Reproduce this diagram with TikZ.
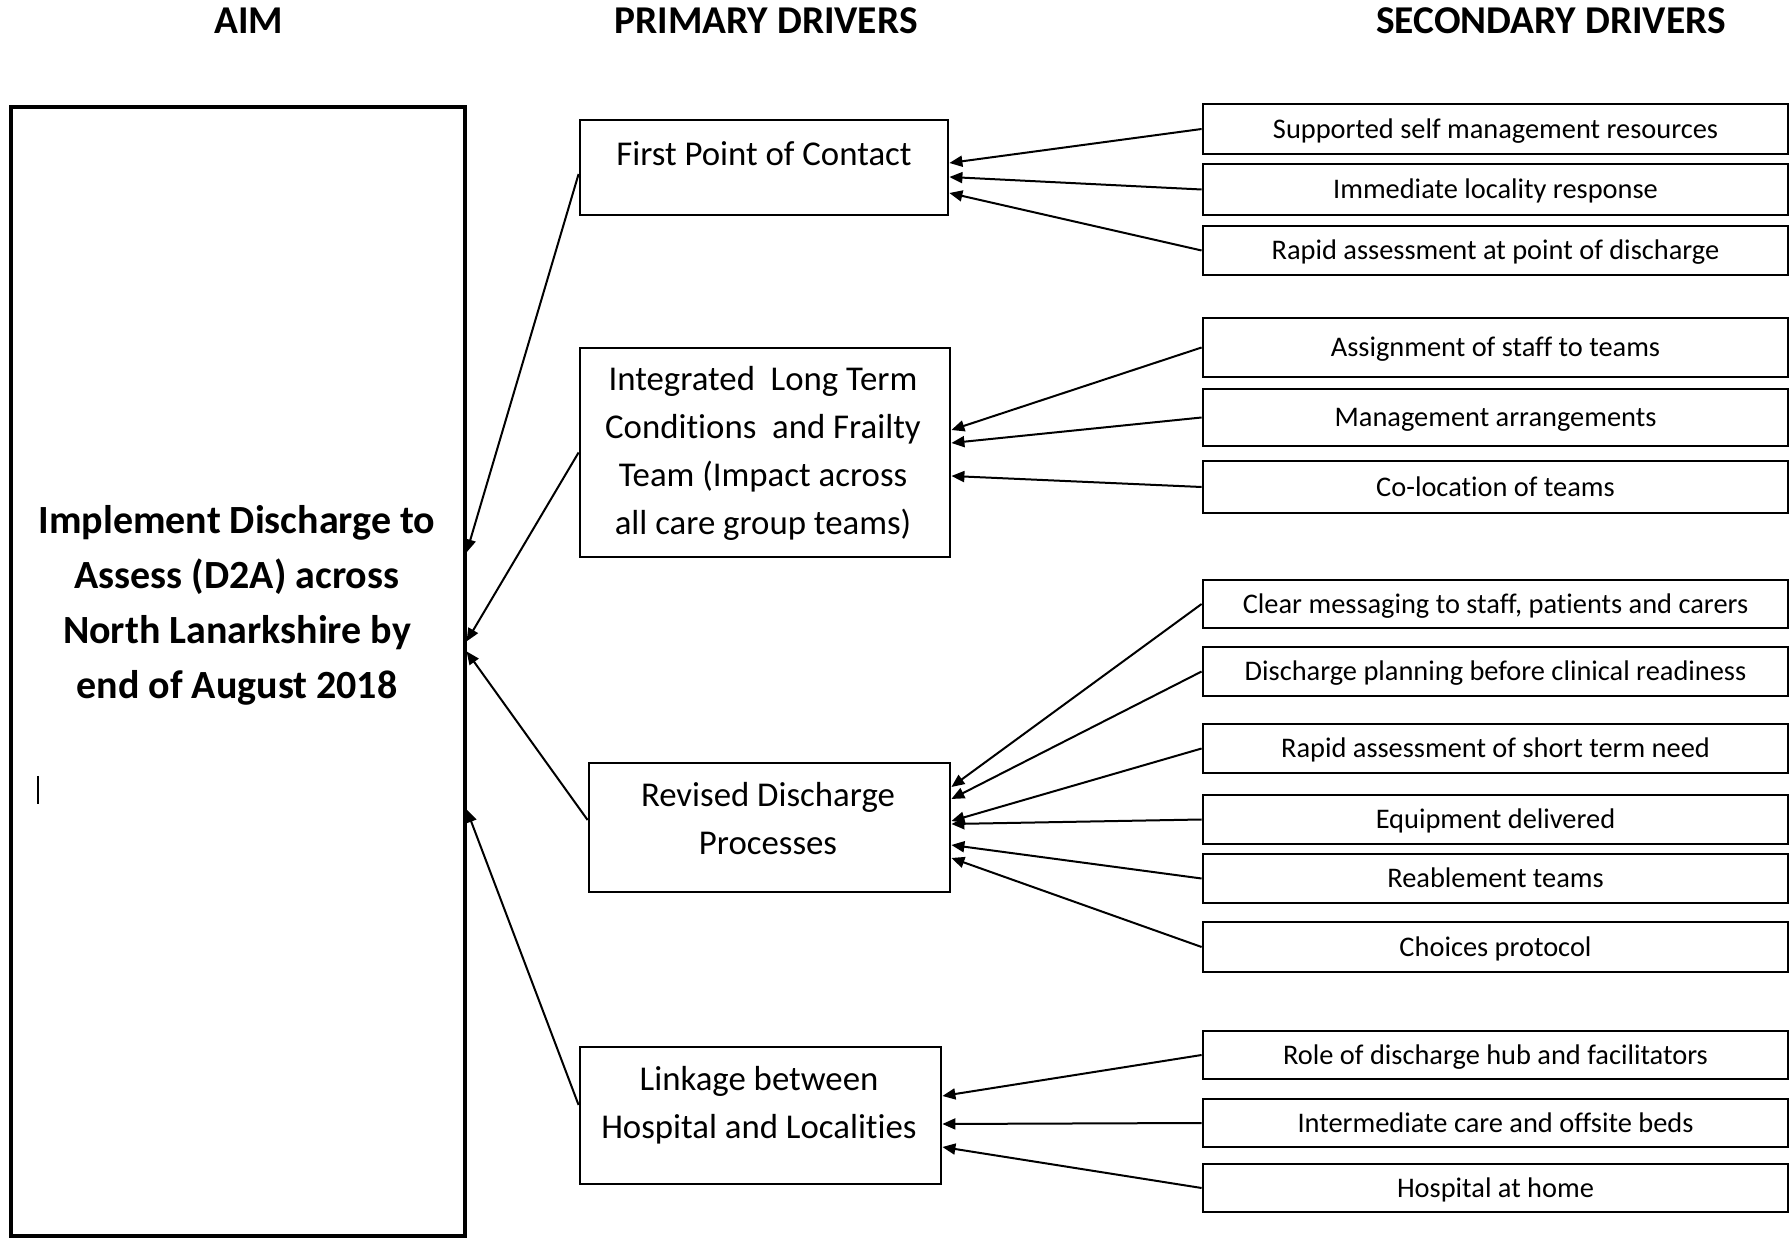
\documentclass[tikz,border=0pt]{standalone}
\usepackage{fontspec}
\setmainfont{Carlito}[Ligatures=NoCommon]
\usetikzlibrary{arrows.meta,calc}
\begin{document}
\begin{tikzpicture}[x=0.5pt,y=-0.5pt,
  box/.style={draw, line width=1.4pt, inner sep=0pt, align=center},
  sbox/.style={box, minimum width=292.5pt, text height=0.92em, text depth=0pt, font=\fontsize{14.2}{16}\selectfont},
  pbox/.style={box},
  ptext/.style={align=center, inner sep=0pt, font=\fontsize{17.4}{24}\selectfont},
  aimtext/.style={align=center, inner sep=0pt, font=\bfseries\fontsize{20}{27.5}\selectfont},
  title/.style={inner sep=0pt, font=\bfseries\fontsize{19.7}{24}\selectfont},
  link/.style={line width=1pt, -{Triangle[length=6.5pt,width=5.5pt]}}]
\useasboundingbox (0,0) rectangle (1790,1240);

% titles
\node[title] (t1) at (249,21) {AIM};
\node[title] (t2) at (766,21) {PRIMARY DRIVERS};
\node[title] (t3) at (1551,21) {SECONDARY DRIVERS};

% aim
\node[box, line width=1.6pt, minimum width=227pt, minimum height=564.5pt] (aim) at (238,671.5) {};
\node[aimtext] (aimt) at (237,605.5) {Implement Discharge to\\Assess (D2A) across\\North Lanarkshire by\\end of August 2018};
\draw[line width=1.3pt] (38,776) -- (38,804);

% primary drivers
\node[pbox, minimum width=184pt, minimum height=47.5pt] (p1) at (764,167.5) {};
\node[ptext] (p1t) at (764,154) {First Point of Contact};
\node[pbox, minimum width=185pt, minimum height=104.5pt] (p2) at (765,452.5) {};
\node[ptext] (p2t) at (763,453.5) {Integrated\ \ Long Term\\Conditions\ \ and Frailty\\Team (Impact across\\all care group teams)};
\node[pbox, minimum width=180.5pt, minimum height=64.5pt] (p3) at (769.5,827.5) {};
\node[ptext] (p3t) at (768,819) {Revised Discharge\\Processes};
\node[pbox, minimum width=180.5pt, minimum height=68.5pt] (p4) at (760.5,1115.5) {};
\node[ptext] (p4t) at (759,1105) {Linkage between\\Hospital and Localities};

% secondary drivers
\node[sbox, minimum height=25pt]   (s1)  at (1495.5,129)    {Supported self management resources};
\node[sbox, minimum height=25.5pt] (s2)  at (1495.5,189.5)  {Immediate locality response};
\node[sbox, minimum height=24.5pt] (s3)  at (1495.5,250.5)  {Rapid assessment at point of discharge};
\node[sbox, minimum height=29.5pt] (s4)  at (1495.5,347.5)  {Assignment of staff to teams};
\node[sbox, minimum height=28.5pt] (s5)  at (1495.5,417.5)  {Management arrangements};
\node[sbox, minimum height=26pt]   (s6)  at (1495.5,487)    {Co-location of teams};
\node[sbox, minimum height=24pt]   (s7)  at (1495.5,604)    {Clear messaging to staff, patients and carers};
\node[sbox, minimum height=24.5pt] (s8)  at (1495.5,671.5)  {Discharge planning before clinical readiness};
\node[sbox, minimum height=24.5pt] (s9)  at (1495.5,748.5)  {Rapid assessment of short term need};
\node[sbox, minimum height=24.5pt] (s10) at (1495.5,819.5)  {Equipment delivered};
\node[sbox, minimum height=24.5pt] (s11) at (1495.5,878.5)  {Reablement teams};
\node[sbox, minimum height=25pt]   (s12) at (1495.5,947)    {Choices protocol};
\node[sbox, minimum height=24pt]   (s13) at (1495.5,1055)   {Role of discharge hub and facilitators};
\node[sbox, minimum height=24pt]   (s14) at (1495.5,1123)   {Intermediate care and offsite beds};
\node[sbox, minimum height=24pt]   (s15) at (1495.5,1188)   {Hospital at home};

% secondary -> primary
\draw[link] (s1.west) -- ($(p1.east)+(0,-4.5)$);
\draw[link] (s2.west) -- ($(p1.east)+(0,9.5)$);
\draw[link] (s3.west) -- ($(p1.east)+(0,25.5)$);

\draw[link] (s4.west) -- ($(p2.east)+(0,-22.5)$);
\draw[link] (s5.west) -- ($(p2.east)+(0,-9.5)$);
\draw[link] (s6.west) -- ($(p2.east)+(0,23.5)$);

\draw[link] (s7.west)  -- ($(p3.east)+(0,-40.5)$);
\draw[link] (s8.west)  -- ($(p3.east)+(0,-28.5)$);
\draw[link] (s9.west)  -- ($(p3.east)+(0,-6.5)$);
\draw[link] (s10.west) -- ($(p3.east)+(0,-3.5)$);
\draw[link] (s11.west) -- ($(p3.east)+(0,17.5)$);
\draw[link] (s12.west) -- ($(p3.east)+(0,30.5)$);

\draw[link] (s13.west) -- ($(p4.east)+(0,-19.5)$);
\draw[link] (s14.west) -- ($(p4.east)+(0,8.5)$);
\draw[link] (s15.west) -- ($(p4.east)+(0,31.5)$);

% primary -> aim
\draw[link] ($(p1.west)+(0,6.5)$)   -- ($(aim.north east)+(0,447)$);
\draw[link] (p2.west)               -- ($(aim.north east)+(0,536)$);
\draw[link] ($(p3.west)+(0,-7.5)$)  -- ($(aim.north east)+(0,546)$);
\draw[link] ($(p4.west)+(0,-10.5)$) -- ($(aim.north east)+(0,704)$);
\end{tikzpicture}
\end{document}
